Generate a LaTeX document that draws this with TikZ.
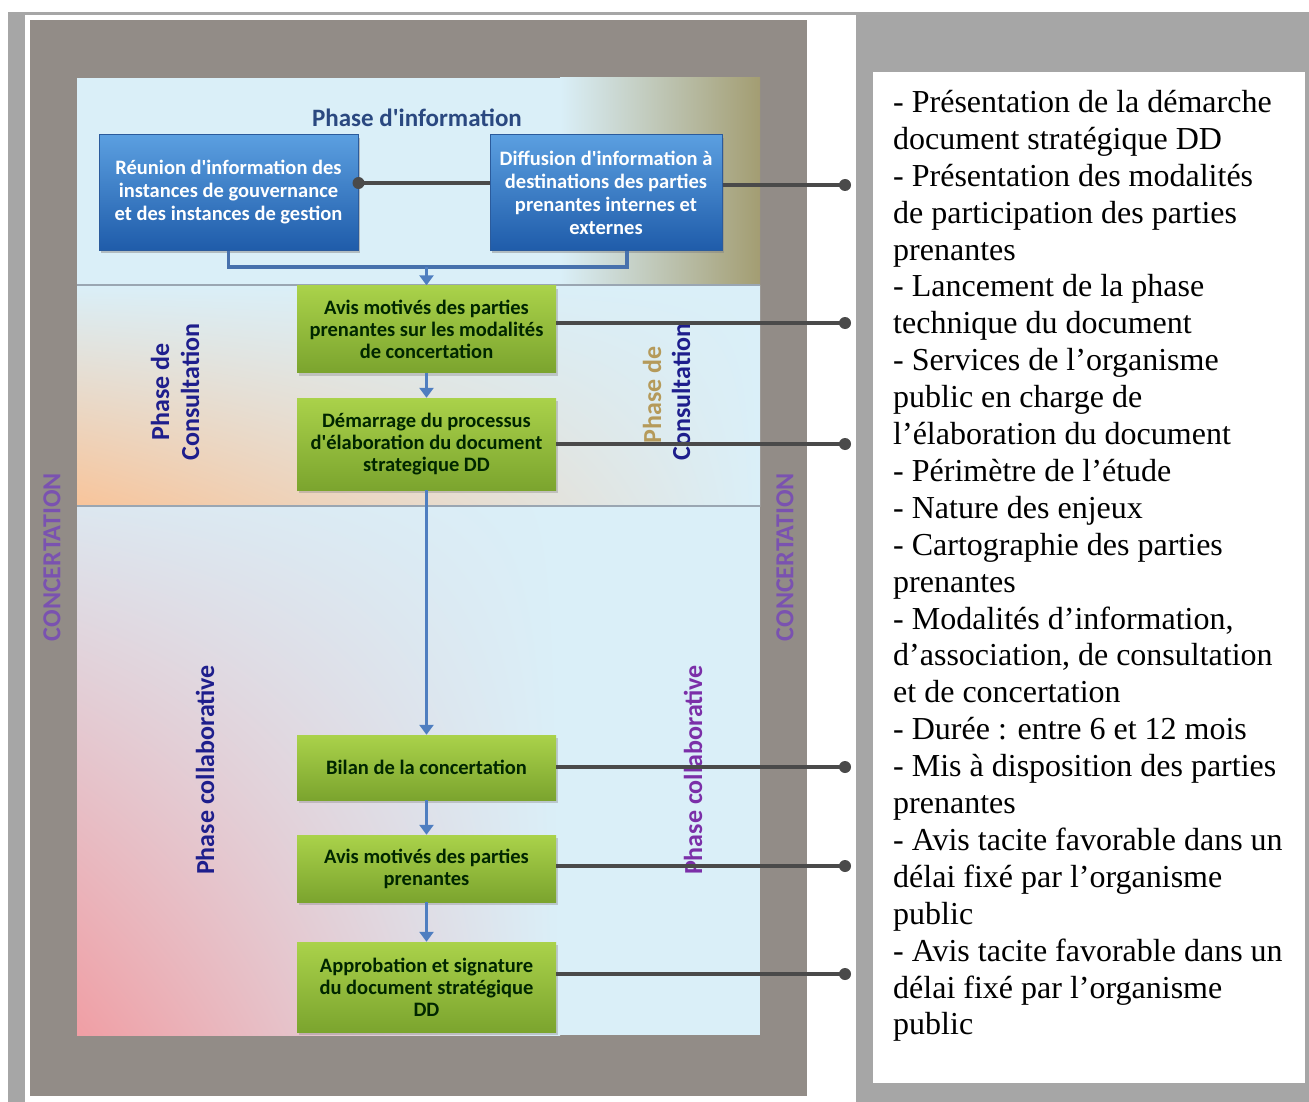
\documentclass[tikz,border=0pt]{standalone}
\usepackage{fontspec}
\setmainfont{Liberation Serif}
\newfontfamily\diagfont{Carlito}
\usetikzlibrary{arrows.meta,shadows,shadings}
\definecolor{bggray}{HTML}{A6A6A6}
\definecolor{taupe}{HTML}{928C87}
\definecolor{panelblue}{HTML}{DAEFF8}
\definecolor{khaki}{HTML}{A39D72}
\definecolor{peach}{HTML}{F8C49A}
\definecolor{rose}{HTML}{F09EA4}
\definecolor{divider}{HTML}{9AA6B2}
\definecolor{bluetop}{HTML}{5B9FE0}
\definecolor{bluebot}{HTML}{1F5CAA}
\definecolor{blueedge}{HTML}{2B5B9C}
\definecolor{greentop}{HTML}{AAD24A}
\definecolor{greenbot}{HTML}{7BA42E}
\definecolor{flowblue}{HTML}{4F7EC0}
\definecolor{linkgray}{HTML}{4A4A4A}
\definecolor{navy}{HTML}{1E1E8C}
\definecolor{titleblue}{HTML}{2A4880}
\definecolor{lavender}{HTML}{7A52B0}
\definecolor{violet}{HTML}{7B2FA8}
\definecolor{gold}{HTML}{B59A5A}
\begin{document}
\begin{tikzpicture}[x=1pt,y=-1pt,
  bluebox/.style={rectangle,draw=blueedge,line width=1,top color=bluetop,bottom color=bluebot,
    drop shadow={shadow xshift=2pt,shadow yshift=-3pt,opacity=.45},text=white,align=center,
    font=\diagfont\bfseries\fontsize{20.5}{23}\selectfont,minimum width=259,minimum height=115,inner sep=0},
  greenbox/.style={rectangle,top color=greentop,bottom color=greenbot,
    drop shadow={shadow xshift=2pt,shadow yshift=-3pt,opacity=.35},text=black!85!green,align=center,
    font=\diagfont\bfseries\fontsize{20.5}{22}\selectfont,minimum width=259,inner sep=0},
  flow/.style={draw=flowblue,line width=3,-{Triangle[width=14,length=10]}},
  link/.style={draw=linkgray,line width=4},
  vlabel/.style={rotate=90,align=center,font=\diagfont\bfseries\fontsize{26}{30}\selectfont}]
\useasboundingbox (0,0) rectangle (1309,1102);
\fill[bggray] (0,0) rectangle (1309,1102);
\fill[white] (0,0) rectangle (1309,12);
\fill[white] (0,0) rectangle (8,1102);
\fill[white] (25,15) rectangle (856,1102);
\fill[taupe] (30,20) rectangle (807,1096);
% phase bands
\fill[panelblue] (77,78) rectangle (560,285);
\shade[left color=panelblue,right color=khaki] (560,78) rectangle (760,285);
\shade[upper left=panelblue,upper right=panelblue,lower left=peach,lower right=panelblue] (77,285) rectangle (760,506);
\shade[upper left=panelblue!90!rose,upper right=panelblue,lower left=rose,lower right=panelblue] (77,506) rectangle (560,1035);
\fill[panelblue] (560,506) rectangle (760,1035);
\draw[divider,line width=2] (77,285) -- (760,285);
\draw[divider,line width=2] (77,506) -- (760,506);
% side labels
\node[vlabel,text=lavender] (cl) at (52,557) {CONCERTATION};
\node[vlabel,text=lavender] (cr) at (785,557) {CONCERTATION};
\node[vlabel,text=navy] (pcl) at (175,392) {Phase de\\Consultation};
\node[vlabel,text=gold] (pcr1) at (652,395) {Phase de};
\node[vlabel,text=navy] (pcr2) at (681,392) {Consultation};
\node[vlabel,text=navy] (pkl) at (205,770) {Phase collaborative};
\node[vlabel,text=violet] (pkr) at (693,770) {Phase collaborative};
\node[font=\diagfont\bfseries\fontsize{25}{28}\selectfont,text=titleblue] (title) at (417,118) {Phase d'information};
% information boxes
\node[bluebox] (b1) at (228.5,192.5) {Réunion d'information des\\instances de gouvernance\\et des instances de gestion};
\node[bluebox,minimum width=232] (b2) at (606,192.5) {Diffusion d'information à\\destinations des parties\\prenantes internes et\\externes};
\coordinate (join) at (426.5,267);
\draw[draw=flowblue!90!black,line width=3.5] (b1.south) |- (join) -| ([xshift=21]b2.south);
% steps
\node[greenbox,minimum height=87] (g1) at (426.5,329) {Avis motivés des parties\\prenantes sur les modalités\\de concertation};
\node[greenbox,minimum height=92] (g2) at (426.5,444) {Démarrage du processus\\d'élaboration du document\\strategique DD};
\node[greenbox,minimum height=65] (g3) at (426.5,767.5) {Bilan de la concertation};
\node[greenbox,minimum height=67] (g4) at (426.5,868.5) {Avis motivés des parties\\prenantes};
\node[greenbox,minimum height=90] (g5) at (426.5,987) {Approbation et signature\\du document stratégique\\DD};
\draw[flow] (join) -- (g1.north);
\draw[flow] (g1.south) -- (g2.north);
\draw[flow] (g2.south) -- (g3.north);
\draw[flow] (g3.south) -- (g4.north);
\draw[flow] (g4.south) -- (g5.north);
% connectors to the notes
\coordinate (d0) at (845,185);
\coordinate (d1) at (845,323);
\coordinate (d2) at (845,444);
\coordinate (d3) at (845,767);
\coordinate (d4) at (845,866);
\coordinate (d5) at (845,974);
\draw[link] (b2.west |- 0,183) -- (b1.east |- 0,183);
\fill[linkgray] (b1.east |- 0,183) circle (6);
\draw[link] (b2.east |- d0) -- (d0);
\draw[link] (g1.east |- d1) -- (d1);
\draw[link] (g2.east |- d2) -- (d2);
\draw[link] (g3.east |- d3) -- (d3);
\draw[link] (g4.east |- d4) -- (d4);
\draw[link] (g5.east |- d5) -- (d5);
\foreach \d in {d0,d1,d2,d3,d4,d5}
  \fill[linkgray] (\d) circle (6);
% notes
\fill[white] (873,72) rectangle (1305,1083);
\node[anchor=north west,inner sep=0,align=left,font=\fontsize{32}{36.9}\selectfont] (notes) at (893,90) {- Présentation de la démarche\\document stratégique DD\\- Présentation des modalités\\de participation des parties\\prenantes\\- Lancement de la phase\\technique du document\\- Services de l’organisme\\public en charge de\\l’élaboration du document\\- Périmètre de l’étude\\- Nature des enjeux\\- Cartographie des parties\\prenantes\\- Modalités d’information,\\d’association, de consultation\\et de concertation\\- Durée : entre 6 et 12 mois\\- Mis à disposition des parties\\prenantes\\- Avis tacite favorable dans un\\délai fixé par l’organisme\\public\\- Avis tacite favorable dans un\\délai fixé par l’organisme\\public};
\end{tikzpicture}
\end{document}
